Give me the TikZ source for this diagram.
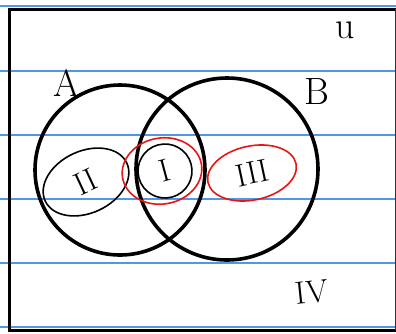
\documentclass[tikz,border=0pt]{standalone}
\usetikzlibrary{positioning, shapes.geometric}

\definecolor{ruleblue}{RGB}{80,150,235}
\definecolor{penred}{RGB}{235,20,20}

\begin{document}
\begin{tikzpicture}[
    x=1pt, y=-1pt,
    setcirc/.style={circle, draw, line width=3.6pt, inner sep=0pt},
    region/.style={ellipse, draw, line width=1.6pt, inner sep=0pt, font=\fontsize{32}{32}\selectfont},
    redring/.style={region, draw=penred, text=black},
    setlabel/.style={font=\fontsize{38}{38}\selectfont},
    ruling/.style={ruleblue, line width=1.5pt}
]
\useasboundingbox (0,0) rectangle (396,333);

% === PAPER ===
\foreach \yy in {6,71,135,199,263,327}
    \draw[ruling] (0,\yy) -- (396,\yy);
\draw[line width=3pt] (396,9) -- (9,9) -- (9,330) -- (396,330);
\draw[line width=1pt, black!80] (395,9) -- (395,330);

% === SETS ===
\node[setcirc, minimum size=170pt] (A) at (120,170) {};
\node[setcirc, minimum size=182pt] (B) at (227,169) {};
\node[setlabel] (labA) at (67,83) {A};
\node[setlabel] (labB) at (317,92) {B};
\node[setlabel] (labU) at (345,30) {u};

% === REGIONS ===
\node[region, minimum width=90pt, minimum height=62pt, rotate=25] (r2) at (86,182) {II};
\node[region, minimum width=54pt, minimum height=54pt, rotate=15] (r1) at (165,171) {I};
\node[redring, minimum width=80pt, minimum height=66pt, rotate=10] (r1red) at (162,171) {};
\node[redring, minimum width=90pt, minimum height=54pt, rotate=12] (r3) at (252,173) {III};
\node[font=\fontsize{32}{32}\selectfont, rotate=6] (r4) at (312,292) {IV};

\end{tikzpicture}
\end{document}
